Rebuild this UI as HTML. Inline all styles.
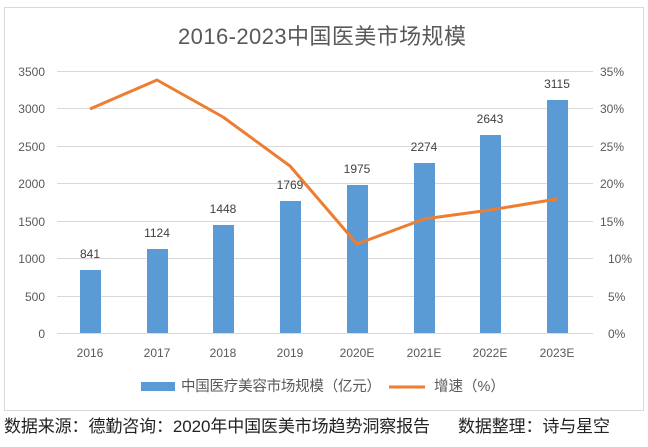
<!DOCTYPE html><html><head><meta charset="utf-8"><style>body{margin:0;background:#fff;width:648px;height:442px;overflow:hidden}svg text{font-family:"Liberation Sans","Noto Sans CJK SC",sans-serif}</style></head><body>
<svg width="648" height="442" xmlns="http://www.w3.org/2000/svg">
<rect x="4.5" y="7.5" width="639" height="403" fill="#fff" stroke="#d9d9d9"/>
<text x="322" y="44" text-anchor="middle" font-size="22" fill="#595959" textLength="288">2016-2023中国医美市场规模</text>
<g stroke="#d9d9d9" stroke-width="1">
<line x1="57" x2="593" y1="71.5" y2="71.5"/><line x1="57" x2="593" y1="108.5" y2="108.5"/><line x1="57" x2="593" y1="146.5" y2="146.5"/><line x1="57" x2="593" y1="183.5" y2="183.5"/><line x1="57" x2="593" y1="221.5" y2="221.5"/><line x1="57" x2="593" y1="258.5" y2="258.5"/><line x1="57" x2="593" y1="296.5" y2="296.5"/><line x1="57" x2="593" y1="333.5" y2="333.5"/></g>
<g font-size="12" fill="#595959" text-anchor="end">
<text x="45" y="76">3500</text><text x="45" y="113">3000</text><text x="45" y="151">2500</text><text x="45" y="188">2000</text><text x="45" y="226">1500</text><text x="45" y="263">1000</text><text x="45" y="301">500</text><text x="45" y="338">0</text></g>
<g font-size="12" fill="#595959">
<text x="600" y="76">35%</text><text x="600" y="113">30%</text><text x="600" y="151">25%</text><text x="600" y="188">20%</text><text x="600" y="226">15%</text><text x="608" y="263">10%</text><text x="608" y="301">5%</text><text x="608" y="338">0%</text></g>
<g fill="#5b9bd5">
<rect x="80" y="270" width="21" height="63"/><rect x="147" y="249" width="21" height="84"/><rect x="213" y="225" width="21" height="108"/><rect x="280" y="201" width="21" height="132"/><rect x="347" y="185" width="21" height="148"/><rect x="414" y="163" width="21" height="170"/><rect x="480" y="135" width="21" height="198"/><rect x="547" y="100" width="21" height="233"/></g>
<g font-size="12" fill="#404040" text-anchor="middle">
<text x="90" y="258">841</text><text x="157" y="237">1124</text><text x="223" y="213">1448</text><text x="290" y="189">1769</text><text x="357" y="173">1975</text><text x="424" y="151">2274</text><text x="490" y="123">2643</text><text x="557" y="88">3115</text></g>
<polyline points="90,109 157,80 223,117 290,166 357,244 424,219 490,210 557,199" fill="none" stroke="#ed7d31" stroke-width="3" stroke-linejoin="round"/>
<g font-size="12" fill="#595959" text-anchor="middle">
<text x="90" y="357">2016</text><text x="157" y="357">2017</text><text x="223" y="357">2018</text><text x="290" y="357">2019</text><text x="357" y="357">2020E</text><text x="424" y="357">2021E</text><text x="490" y="357">2022E</text><text x="557" y="357">2023E</text></g>
<rect x="141" y="382" width="34" height="9" fill="#5b9bd5"/>
<text x="181" y="391" font-size="14.5" fill="#595959" textLength="200">中国医疗美容市场规模（亿元）</text>
<line x1="389" x2="425" y1="387" y2="387" stroke="#ed7d31" stroke-width="3"/>
<text x="434" y="391" font-size="14.5" fill="#595959">增速（%）</text>
<text x="4" y="432" font-size="17" fill="#222" textLength="426">数据来源：德勤咨询：2020年中国医美市场趋势洞察报告</text>
<text x="458" y="432" font-size="17" fill="#222" textLength="152">数据整理：诗与星空</text>
</svg></body></html>
